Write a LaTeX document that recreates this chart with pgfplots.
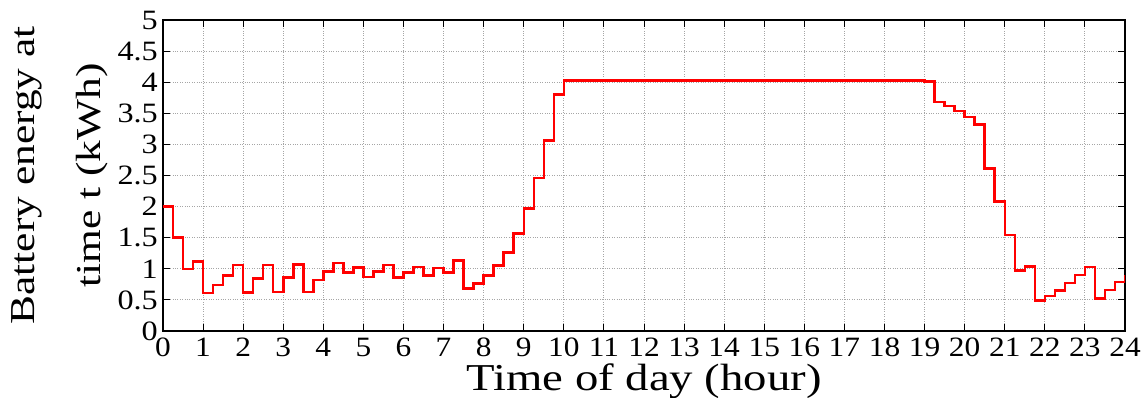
\documentclass[border=0pt]{standalone}
\usepackage{fontspec}
\setmainfont{Liberation Serif}
\usepackage{graphicx}
\usepackage{pgfplots}
\pgfplotsset{compat=1.18}
\begin{document}
\begin{tikzpicture}
\useasboundingbox (-163pt,-67pt) rectangle (982pt,331pt);
\begin{axis}[
  at={(0pt,0pt)}, anchor=south west,
  scale only axis, width=962pt, height=311pt,
  xmin=0, xmax=24, ymin=0, ymax=5,
  xtick={0,1,...,24},
  ytick={0,0.5,1,1.5,2,2.5,3,3.5,4,4.5,5},
  /pgf/number format/assume math mode=true,
  tick label style={font=\fontsize{28}{28}\selectfont},
  xticklabel={\scalebox{1.12}[1]{\pgfmathprintnumber{\tick}}},
  yticklabel={\scalebox{1.15}[1]{\pgfmathprintnumber{\tick}}},
  xticklabel style={inner sep=0.5pt, yshift=-6pt},
  yticklabel style={inner sep=2pt, xshift=-3pt},
  tick align=inside, xtick pos=both, ytick pos=both,
  major tick length=7pt,
  tick style={black, line width=1pt},
  axis line style={black, line width=1.4pt},
  grid=major,
  major grid style={dotted, gray!70, line width=0.9pt},
  xlabel={\scalebox{1.23}[1]{Time of day (hour)}},
  xlabel style={font=\fontsize{38}{38}\selectfont, inner sep=0pt, at={(axis description cs:0.5,0)}, anchor=north, yshift=-33pt},
  ylabel={\scalebox{1.24}[1]{Battery energy at}\\\scalebox{1.24}[1]{time t (kWh)}},
  ylabel style={font=\fontsize{35}{66}\selectfont, align=center, at={(axis description cs:-0.107,0.5)}, anchor=center},
]
\addplot[const plot, red, line width=2.5pt] coordinates {
(0,2.00) (0.25,1.50) (0.5,1.00) (0.75,1.12)
(1,0.61) (1.25,0.74) (1.5,0.89) (1.75,1.06)
(2,0.62) (2.25,0.84) (2.5,1.06) (2.75,0.63)
(3,0.86) (3.25,1.07) (3.5,0.63) (3.75,0.82)
(4,0.96) (4.25,1.09) (4.5,0.94) (4.75,1.02)
(5,0.87) (5.25,0.96) (5.5,1.06) (5.75,0.86)
(6,0.94) (6.25,1.03) (6.5,0.89) (6.75,1.01)
(7,0.94) (7.25,1.13) (7.5,0.68) (7.75,0.76)
(8,0.89) (8.25,1.05) (8.5,1.26) (8.75,1.57)
(9,1.97) (9.25,2.46) (9.5,3.06) (9.75,3.80)
(10,4.03) (11,4.03) (12,4.03) (13,4.03) (14,4.03) (15,4.03) (16,4.03) (17,4.03) (18,4.03)
(19,4.01) (19.25,3.68) (19.5,3.62) (19.75,3.54)
(20,3.44) (20.25,3.32) (20.5,2.61) (20.75,2.08)
(21,1.54) (21.25,0.97) (21.5,1.04) (21.75,0.49)
(22,0.56) (22.25,0.65) (22.5,0.77) (22.75,0.90)
(23,1.03) (23.25,0.52) (23.5,0.66) (23.75,0.79)
(24,0.90)
};
\end{axis}
\end{tikzpicture}
\end{document}
